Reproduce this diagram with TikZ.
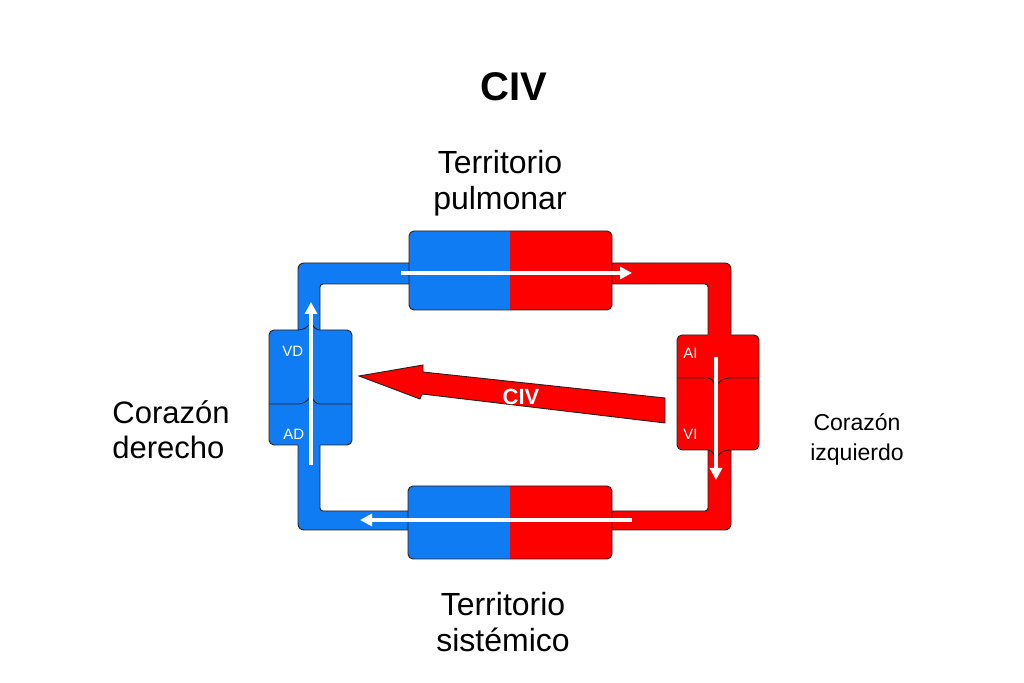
\documentclass[tikz,border=0pt]{standalone}
\usepackage{fontspec}
\setmainfont{Liberation Sans}
\usetikzlibrary{arrows.meta}
\definecolor{venosa}{RGB}{16,124,244}
\definecolor{arterial}{RGB}{255,0,0}
\definecolor{borde}{RGB}{45,30,30}
\tikzset{
	outline/.style={draw=borde,line width=.45pt},
	chamber/.style={outline,rounded corners=2.5pt},
	flow/.style={draw=white,line width=2pt,-{Triangle[length=6pt,width=6pt]}},
	tag/.style={text=white,font=\fontsize{7.5}{8}\selectfont,inner sep=0pt,anchor=west},
	bigtext/.style={align=center,font=\fontsize{16}{18}\selectfont,inner sep=0pt},
}
\begin{document}
\begin{tikzpicture}[x=.5pt,y=-.5pt]
	\useasboundingbox (0,0) rectangle (1024,683);
	% the loop of vessels, blue on the left half, red on the right
	\foreach \col/\xa/\xb in {venosa/0/510,arterial/510/1024}{
		\begin{scope}
			\clip (\xa,0) rectangle (\xb,683);
			\fill[\col,even odd rule] [rounded corners=3pt] (298,263) rectangle (731,530)
				[rounded corners=1.5pt] (320,284) rectangle (708,511);
		\end{scope}
	}
	\draw[outline,rounded corners=3pt] (298,263) rectangle (731,530);
	\draw[outline,rounded corners=1.5pt] (320,284) rectangle (708,511);
	\foreach \col/\xa/\xb in {venosa/0/510,arterial/510/1024}{
		\begin{scope}
			\clip (\xa,0) rectangle (\xb,683);
			\fill[\col,rounded corners=2.5pt] (409,231) rectangle (612,310);
			\fill[\col,rounded corners=2.5pt] (408,486) rectangle (612,559);
		\end{scope}
	}
	\draw[chamber] (409,231) rectangle (612,310);
	\draw[chamber] (408,486) rectangle (612,559);

	% right heart
	\fill[venosa,rounded corners=2.5pt] (269,330) rectangle (352,445);
	\draw[chamber] (298,330) -- (269,330) -- (269,445) -- (298,445);
	\draw[chamber] (320,330) -- (352,330) -- (352,445) -- (320,445);
	\draw[outline] (298,330) .. controls (304,330) and (308,327) .. (311,322)
		.. controls (313,327) and (316,330) .. (320,330);
	\draw[outline] (269,404) -- (298,404) .. controls (304,404) and (308,401) .. (311,395)
		.. controls (313,401) and (316,404) .. (320,404) -- (352,404);

	% left heart
	\fill[arterial,rounded corners=2.5pt] (677,335) rectangle (759,450);
	\draw[chamber] (708,335) -- (677,335) -- (677,450) -- (708,450);
	\draw[chamber] (730,335) -- (759,335) -- (759,450) -- (730,450);
	\draw[outline] (677,378) -- (708,378) .. controls (711,378) and (714,381) .. (716,387)
		.. controls (718,381) and (724,378) .. (730,378) -- (759,378);
	\draw[outline] (708,450) .. controls (711,450) and (714,453) .. (716,459)
		.. controls (718,453) and (724,450) .. (730,450);

	\node[tag] (vd) at (282,351) {VD};
	\node[tag] (ad) at (283,434) {AD};
	\node[tag] (ai) at (683,353) {AI};
	\node[tag] (vi) at (683,434) {VI};

	\coordinate (pulmIn) at (401,273);
	\coordinate (pulmOut) at (632,273);
	\coordinate (sistIn) at (632,520);
	\coordinate (sistOut) at (360,520);
	\coordinate (derIn) at (311,465);
	\coordinate (derOut) at (311,302);
	\coordinate (izqIn) at (716,357);
	\coordinate (izqOut) at (716,480);
	\draw[flow] (pulmIn) -- (pulmOut);
	\draw[flow] (sistIn) -- (sistOut);
	\draw[flow] (derIn) -- (derOut);
	\draw[flow] (izqIn) -- (izqOut);

	% the shunt
	\draw[outline,fill=arterial] (665,398) -- (423,372) -- (423,365) -- (359,376)
		-- (420,399) -- (422,394) -- (665,423) -- cycle;
	\node[text=white,font=\bfseries\fontsize{11}{12}\selectfont] (shunt) at (521,397) {CIV};

	\node[font=\bfseries\fontsize{20}{22}\selectfont] (title) at (514,87) {CIV};
	\node[bigtext] (pulm) at (500,183) {Territorio\\pulmonar};
	\node[bigtext] (sist) at (503,622) {Territorio\\sistémico};
	\node[bigtext,align=left,anchor=west,font=\fontsize{15.5}{17.5}\selectfont] (der) at (112,430) {Corazón\\derecho};
	\node[bigtext,font=\fontsize{11.5}{15}\selectfont] (izq) at (857,439) {Corazón\\izquierdo};
\end{tikzpicture}
\end{document}
